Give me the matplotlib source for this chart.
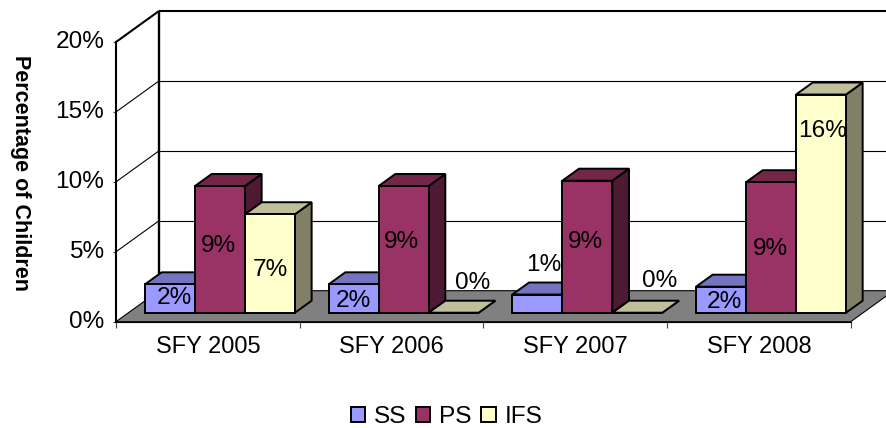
import matplotlib
matplotlib.use("Agg")
import matplotlib.pyplot as plt
from matplotlib.patches import Polygon, Patch
from matplotlib.transforms import ScaledTranslation

plt.rcParams['font.family'] = ['Liberation Sans', 'DejaVu Sans']

categories = ['SFY 2005', 'SFY 2006', 'SFY 2007', 'SFY 2008']
series_names = ['SS', 'PS', 'IFS']
ss_values = [2.03, 2.03, 1.3, 1.86]
ps_values = [9.06, 9.06, 9.44, 9.33]
ifs_values = [7.04, 0.0, 0.0, 15.6]
labels_ss = ['2%', '2%', '1%', '2%']
labels_ps = ['9%', '9%', '9%', '9%']
labels_ifs = ['7%', '0%', '0%', '16%']
y_ticks = [0, 5, 10, 15, 20]
y_tick_labels = ['0%', '5%', '10%', '15%', '20%']

# label offsets (pixels from the top centre of each bar's front face)
offs_ss = [(4, -14), (0, -17), (6, 30), (3, -15)]
offs_ps = [(-2, -60), (-2, -56), (-2, -61), (-1, -67)]
offs_ifs = [(0, -56), (19, 30), (22, 32), (2, -36)]

W, H = 886, 428
L, R, B, T = 116.0, 850.7, 321.7, 42.0
DX, DY = 43.0, 31.0
BAR_D0, BAR_D1 = 9.0 / 31, 21.0 / 31
FS = 17.6

fig = plt.figure(figsize=(W / 100, H / 100), dpi=100, facecolor='white')
ax = fig.add_axes([L / W, 1 - B / H, (R - L) / W, (B - T) / H])
ax.set_xlim(0, 4)
ax.set_ylim(0, 20)
ax.patch.set_visible(False)

ux = (R - L) / 4
uy = (B - T) / 20


def pr(x, v, d):
    """Project (category position, percent, depth fraction) to data coordinates."""
    return (x + d * DX / ux, v + d * DY / uy)


def poly(pts, fc, lw=1.4, z=2):
    ax.add_patch(Polygon(pts, closed=True, facecolor=fc, edgecolor='black',
                         linewidth=lw, clip_on=False, zorder=z, joinstyle='miter'))


def line(a, b, lw=1.0, z=1):
    ax.plot([a[0], b[0]], [a[1], b[1]], color='black', lw=lw, clip_on=False,
            zorder=z, solid_capstyle='butt')


# floor
poly([pr(0, 0, 0), pr(4, 0, 0), pr(4, 0, 1), pr(0, 0, 1)], '#808080', lw=0.8, z=1)

# walls and gridlines
for v in y_ticks[1:-1]:
    line(pr(0, v, 0), pr(0, v, 1), lw=0.8)
    line(pr(0, v, 1), pr(4, v, 1), lw=0.8)
line(pr(0, 20, 0), pr(0, 20, 1), lw=1.5)
line(pr(0, 20, 1), pr(4, 20, 1), lw=1.5)
line(pr(0, 0, 1), pr(0, 20, 1), lw=1.7)

front = ['#9999FF', '#993366', '#FFFFCC']
top = ['#7373BF', '#732648', '#BFBF99']
side = ['#4D4D80', '#4D1933', '#808066']

bar_w = 50.0 / ux
first = (145.0 - L - BAR_D0 * DX) / ux

series = [ss_values, ps_values, ifs_values]
labels = [labels_ss, labels_ps, labels_ifs]
offs = [offs_ss, offs_ps, offs_ifs]

for g in range(len(categories)):
    for s in range(3):
        v = series[s][g]
        x0 = g + first + s * bar_w
        x1 = x0 + bar_w
        z = 3 + g * 3 + s
        poly([pr(x1, 0, BAR_D0), pr(x1, 0, BAR_D1), pr(x1, v, BAR_D1), pr(x1, v, BAR_D0)], side[s], z=z)
        poly([pr(x0, v, BAR_D0), pr(x1, v, BAR_D0), pr(x1, v, BAR_D1), pr(x0, v, BAR_D1)], top[s], z=z)
        poly([pr(x0, 0, BAR_D0), pr(x1, 0, BAR_D0), pr(x1, v, BAR_D0), pr(x0, v, BAR_D0)], front[s], z=z)

for g in range(len(categories)):
    for s in range(3):
        v = series[s][g]
        x0 = g + first + s * bar_w
        ax.annotate(labels[s][g], xy=pr(x0 + bar_w / 2, v, BAR_D0),
                    xytext=offs[s][g], textcoords='offset pixels',
                    ha='center', va='center', fontsize=FS, color='black',
                    zorder=40, annotation_clip=False)

# axes
for name in ['top', 'right']:
    ax.spines[name].set_visible(False)
ax.spines['left'].set_linewidth(1.5)
ax.spines['bottom'].set_linewidth(0.8)
ax.spines['left'].set_zorder(2)
ax.spines['bottom'].set_zorder(2)
ax.set_yticks(y_ticks)
ax.set_yticklabels(y_tick_labels, fontsize=FS)
ax.set_xticks(range(5))
ax.set_xticklabels([])
ax.set_xticks([i + 0.5 for i in range(4)], minor=True)
ax.set_xticklabels(categories, minor=True, fontsize=17)
ax.tick_params(axis='x', which='major', length=4.2, width=0.8, color='#444444')
ax.tick_params(axis='x', which='minor', length=0, pad=10.5)
ax.tick_params(axis='y', which='major', length=2.5, width=0.8, color='#444444', pad=6)
up = ScaledTranslation(0, 2 / 100, fig.dpi_scale_trans)
for t in ax.get_yticklabels():
    t.set_transform(t.get_transform() + up)

fig.text(20.5 / W, 1 - 173 / H, 'Percentage of Children', rotation=-90, ha='center', va='center',
         fontsize=15.5, fontweight='bold', color='black')

handles = [Patch(facecolor=c, edgecolor='black', linewidth=1.4) for c in front]
fig.legend(handles, series_names, ncols=3, frameon=False, fontsize=FS,
           loc='center', bbox_to_anchor=(446.5 / W, 1 - 417 / H),
           handlelength=0.58, handleheight=0.58, handletextpad=0.36,
           columnspacing=0.40, borderpad=0, borderaxespad=0)

fig.savefig('out.png', dpi=100)
